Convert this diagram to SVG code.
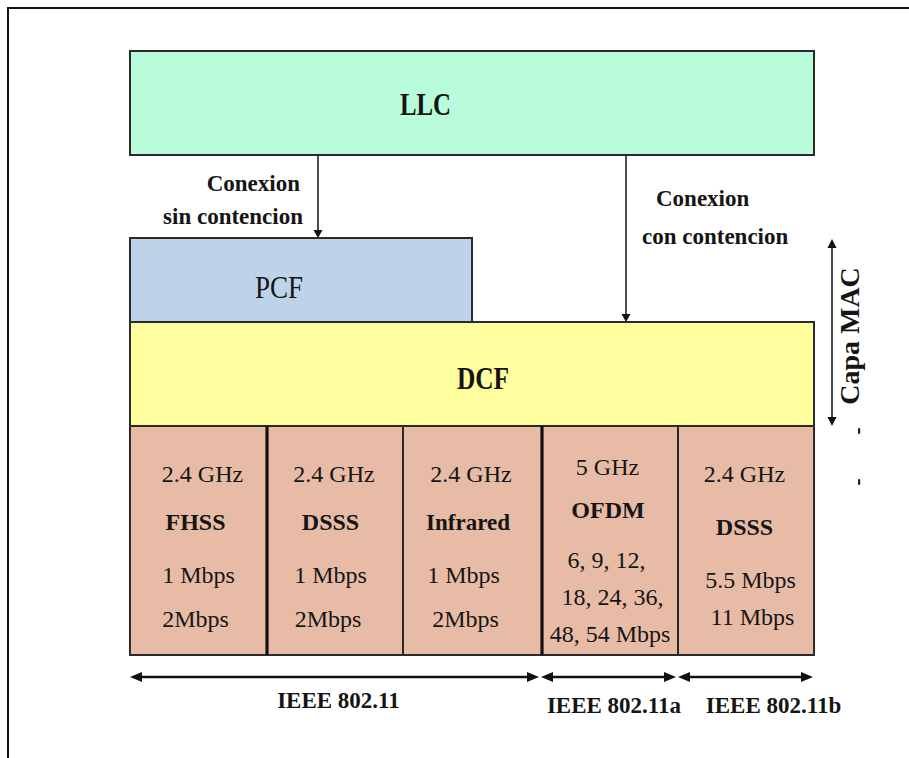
<svg xmlns="http://www.w3.org/2000/svg" width="909" height="758" viewBox="0 0 909 758">
  <defs>
    <style>
      .b { font-weight: bold; }
      .lbl { font-size: 23px; font-weight: bold; fill: #151515; }
      .cell { font-size: 24px; text-anchor: middle; fill: #151515; }
      .big { font-size: 31px; text-anchor: middle; fill: #151515; }
      .box { stroke: #2a2a2a; stroke-width: 2; }
      .link { stroke: #1e1e1e; stroke-width: 1.6; fill: none; }
      .span { stroke: #111; stroke-width: 2.6; fill: none; }
      .head { fill: #111; }
    </style>
  </defs>

  <rect width="909" height="758" fill="#ffffff"/>
  <!-- page frame (top and left edges) -->
  <path d="M8,758 V8 H909" fill="none" stroke="#111" stroke-width="2"/>

  <g id="llc">
    <rect class="box" x="130" y="51" width="684" height="104" fill="#b8fcdc"/>
    <text class="big b" style="font-family:'Liberation Serif'" transform="translate(425.5,115) scale(0.8,1)">LLC</text>
  </g>

  <g id="pcf">
    <rect class="box" x="130" y="238" width="342" height="84" fill="#bdd3ea"/>
    <text class="big" style="font-family:'Liberation Serif'" transform="translate(279,298) scale(0.87,1)">PCF</text>
  </g>

  <g id="dcf">
    <rect class="box" x="130" y="322" width="684" height="104" fill="#fefe9e"/>
    <text class="big b" style="font-family:'Liberation Serif'" transform="translate(483,389) scale(0.82,1)">DCF</text>
  </g>

  <g id="phy-fhss">
    <rect class="box" x="130" y="426" width="137" height="229" fill="#e8bba6"/>
    <text class="cell" style="font-family:'Liberation Serif'" x="202.5" y="482">2.4 GHz</text>
    <text class="cell b" style="font-family:'Liberation Serif'" x="195.5" y="530">FHSS</text>
    <text class="cell" style="font-family:'Liberation Serif'" x="198.5" y="583">1 Mbps</text>
    <text class="cell" style="font-family:'Liberation Serif'" x="195.5" y="627">2Mbps</text>
  </g>

  <g id="phy-dsss">
    <rect class="box" x="267" y="426" width="136" height="229" fill="#e8bba6"/>
    <text class="cell" style="font-family:'Liberation Serif'" x="334" y="482">2.4 GHz</text>
    <text class="cell b" style="font-family:'Liberation Serif'" x="330.5" y="530">DSSS</text>
    <text class="cell" style="font-family:'Liberation Serif'" x="330.5" y="583">1 Mbps</text>
    <text class="cell" style="font-family:'Liberation Serif'" x="328" y="627">2Mbps</text>
  </g>

  <g id="phy-ir">
    <rect class="box" x="403" y="426" width="139" height="229" fill="#e8bba6"/>
    <text class="cell" style="font-family:'Liberation Serif'" x="471" y="482">2.4 GHz</text>
    <text class="cell b" style="font-family:'Liberation Serif'; font-size:23px" x="468" y="530">Infrared</text>
    <text class="cell" style="font-family:'Liberation Serif'" x="463.5" y="583">1 Mbps</text>
    <text class="cell" style="font-family:'Liberation Serif'" x="465.5" y="627">2Mbps</text>
  </g>

  <g id="phy-ofdm">
    <rect class="box" x="542" y="426" width="136" height="229" fill="#e8bba6"/>
    <text class="cell" style="font-family:'Liberation Serif'" x="607.5" y="475">5 GHz</text>
    <text class="cell b" style="font-family:'Liberation Serif'" x="608" y="518">OFDM</text>
    <text class="cell" style="font-family:'Liberation Serif'" x="606.5" y="568">6, 9, 12,</text>
    <text class="cell" style="font-family:'Liberation Serif'" x="612.5" y="605">18, 24, 36,</text>
    <text class="cell" style="font-family:'Liberation Serif'" x="610" y="642">48, 54 Mbps</text>
  </g>

  <g id="phy-hrdsss">
    <rect class="box" x="678" y="426" width="136" height="229" fill="#e8bba6"/>
    <text class="cell" style="font-family:'Liberation Serif'" x="744.5" y="482">2.4 GHz</text>
    <text class="cell b" style="font-family:'Liberation Serif'" x="744.5" y="535">DSSS</text>
    <text class="cell" style="font-family:'Liberation Serif'" x="750.5" y="588">5.5 Mbps</text>
    <text class="cell" style="font-family:'Liberation Serif'" x="752.5" y="625">11 Mbps</text>
  </g>

  <!-- heavier dividers between standard groups -->
  <path d="M267,426 V655 M542,426 V655" stroke="#111" stroke-width="3.2"/>

  <g id="connectors">
    <!-- LLC to PCF / DCF -->
    <line class="link" x1="318" y1="155" x2="318" y2="231"/>
    <polygon class="head" points="313.5,230 322.5,230 318,238"/>
    <line class="link" x1="626" y1="155" x2="626" y2="315"/>
    <polygon class="head" points="621.5,314 630.5,314 626,322"/>
    <!-- MAC layer extent -->
    <line class="link" x1="832" y1="246" x2="832" y2="419"/>
    <polygon class="head" points="827.5,248 836.5,248 832,239"/>
    <polygon class="head" points="827.5,417 836.5,417 832,426"/>
    <!-- standard spans -->
    <line class="span" x1="141" y1="677" x2="528" y2="677"/>
    <polygon class="head" points="142,672 142,682 130,677"/>
    <polygon class="head" points="527,672 527,682 539,677"/>
    <line class="span" x1="552" y1="677" x2="665" y2="677"/>
    <polygon class="head" points="553,672 553,682 541,677"/>
    <polygon class="head" points="664,672 664,682 676,677"/>
    <line class="span" x1="689" y1="677" x2="802" y2="677"/>
    <polygon class="head" points="690,672 690,682 678,677"/>
    <polygon class="head" points="801,672 801,682 813,677"/>
  </g>

  <g id="labels">
    <text class="lbl" style="font-family:'Liberation Serif'" x="300" y="191" text-anchor="end">Conexion</text>
    <text class="lbl" style="font-family:'Liberation Serif'" x="303" y="224" text-anchor="end">sin contencion</text>
    <text class="lbl" style="font-family:'Liberation Serif'" x="656" y="206">Conexion</text>
    <text class="lbl" style="font-family:'Liberation Serif'" x="642" y="244">con contencion</text>
    <text class="b" style="font-family:'Liberation Serif'; font-size:28px" fill="#151515" text-anchor="middle" transform="translate(859,336) rotate(-90)">Capa MAC</text>
    <text class="lbl" style="font-family:'Liberation Serif'" x="338.5" y="708" text-anchor="middle">IEEE 802.11</text>
    <text class="lbl" style="font-family:'Liberation Serif'" x="614" y="713" text-anchor="middle">IEEE 802.11a</text>
    <text class="lbl" style="font-family:'Liberation Serif'" x="773.5" y="713" text-anchor="middle">IEEE 802.11b</text>
  </g>

  <!-- small stray ticks beside the MAC bracket -->
  <rect x="858" y="428" width="2.2" height="6" rx="1" fill="#222"/>
  <rect x="858" y="479" width="2.2" height="6" rx="1" fill="#222"/>
</svg>
